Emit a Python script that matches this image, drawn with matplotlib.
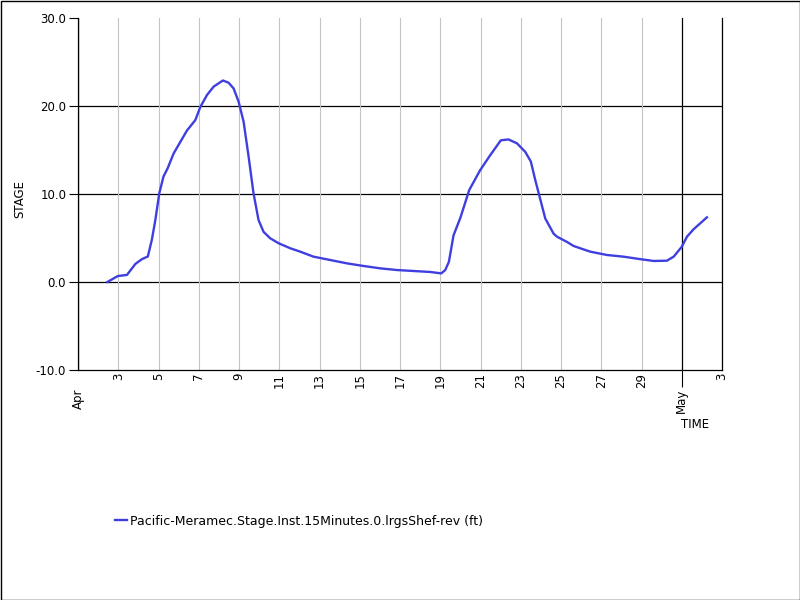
import numpy as np
import pandas as pd
import matplotlib
matplotlib.use("Agg")
import matplotlib.pyplot as plt
import matplotlib.dates as mdates
from matplotlib.patches import Rectangle
from matplotlib.ticker import FuncFormatter, FixedLocator

# ---- data (day of April, fractional; values > 31 run into May) ----
day_of_april = [
    2.46, 2.98, 3.43, 3.85, 4.18, 4.47, 4.67, 4.84, 5.04, 5.25, 5.45, 5.75,
    6.08, 6.41, 6.83, 7.08, 7.41, 7.74, 8.20, 8.48, 8.73, 8.98, 9.23, 9.48,
    9.72, 9.97, 10.22, 10.55, 10.97, 11.55, 12.04, 12.70, 13.53, 14.36,
    15.19, 16.02, 16.85, 17.67, 18.50, 19.05, 19.25, 19.43, 19.66, 20.00,
    20.44, 20.98, 21.48, 22.01, 22.39, 22.81, 23.22, 23.50, 23.72, 23.97,
    24.22, 24.63, 24.80, 25.30, 25.62, 25.96, 26.45, 27.28, 28.10, 28.93,
    29.60, 30.26, 30.60, 31.00, 31.26, 31.59, 31.92, 32.25,
]
stage_ft = [
    0.00, 0.68, 0.80, 2.05, 2.60, 2.90, 4.80, 7.00, 10.1, 12.0, 12.9, 14.6,
    15.9, 17.2, 18.4, 19.9, 21.25, 22.2, 22.9, 22.65, 22.0, 20.5, 18.2, 14.2,
    10.1, 7.05, 5.70, 4.97, 4.40, 3.83, 3.45, 2.88, 2.50, 2.12,
    1.82, 1.55, 1.36, 1.25, 1.14, 0.98, 1.36, 2.30, 5.30, 7.30,
    10.45, 12.7, 14.4, 16.1, 16.2, 15.76, 14.8, 13.7, 11.6, 9.4,
    7.2, 5.5, 5.15, 4.55, 4.1, 3.83, 3.45, 3.07, 2.88, 2.60,
    2.39, 2.42, 2.88, 4.00, 5.15, 6.00, 6.67, 7.35,
]
series_label = "Pacific-Meramec.Stage.Inst.15Minutes.0.lrgsShef-rev (ft)"
y_ticks = [-10, 0, 10, 20, 30]
y_grid_levels = [0, 10, 20]
x_start = "2024-04-01"
x_end = "2024-05-03"

base = pd.Timestamp(x_start)
times = base + pd.to_timedelta(np.array(day_of_april) - 1.0, unit="D")

W, H = 800, 600
fig = plt.figure(figsize=(8, 6), dpi=100)
fig.patch.set_facecolor("white")
ax = fig.add_axes([78 / W, 1 - 370 / H, 644 / W, 352 / H])

ax.plot(times, stage_ft, color="#3f3fe0", lw=1.7, label=series_label,
        solid_joinstyle="round", zorder=3)

ax.set_xlim(pd.Timestamp(x_start), pd.Timestamp(x_end))
ax.set_ylim(-10, 30)

# y axis
ax.yaxis.set_major_locator(FixedLocator(y_ticks))
ax.yaxis.set_major_formatter(FuncFormatter(lambda v, p: f"{v:.1f}"))
ax.tick_params(axis="y", direction="out", length=6.5, width=0.8, pad=2,
               labelsize=8.5, colors="black")
for lv in y_grid_levels:
    ax.axhline(lv, color="black", lw=0.9, zorder=1)

# x axis
ax.xaxis.set_major_locator(mdates.MonthLocator())
ax.xaxis.set_major_formatter(mdates.DateFormatter("%b"))
ax.xaxis.set_minor_locator(mdates.DayLocator(bymonthday=range(3, 30, 2)))
ax.xaxis.set_minor_formatter(FuncFormatter(lambda v, p: str(mdates.num2date(v).day)))
ax.tick_params(axis="x", which="major", direction="out", length=12.5, width=0.8,
               pad=1, labelsize=8.5, labelrotation=90)
ax.tick_params(axis="x", which="minor", direction="out", length=0, pad=2.0,
               labelsize=8.5, labelrotation=90)
for lab in ax.xaxis.get_minorticklabels() + ax.xaxis.get_majorticklabels():
    lab.set_va("top")
ax.grid(True, axis="x", which="minor", color="#c4c4c4", lw=0.8, zorder=0)
ax.grid(True, axis="x", which="major", color="black", lw=0.9, zorder=1)

fig.canvas.draw()
ticks = ax.xaxis.get_major_ticks()
if ticks:
    ticks[0].tick1line.set_visible(False)

ax.spines["top"].set_visible(False)
for side in ["left", "bottom", "right"]:
    ax.spines[side].set_color("black")
    ax.spines[side].set_linewidth(0.9)

fig.text(20 / W, 1 - 199 / H, "STAGE", rotation=90, ha="center", va="center",
         fontsize=8.5)
fig.text(695 / W, 1 - 424 / H, "TIME", ha="center", va="center", fontsize=8.5)

fig.legend(loc="center left", bbox_to_anchor=(115 / W, 1 - 521 / H),
           frameon=False, fontsize=9, handlelength=0.95, handletextpad=0.25,
           borderpad=0, borderaxespad=0)

fig.patches.append(Rectangle((0.5 / W, 0.5 / H), 1 - 1 / W, 1 - 1 / H,
                             transform=fig.transFigure, fill=False,
                             edgecolor="black", lw=1.0))

fig.savefig("out.png", dpi=100)
